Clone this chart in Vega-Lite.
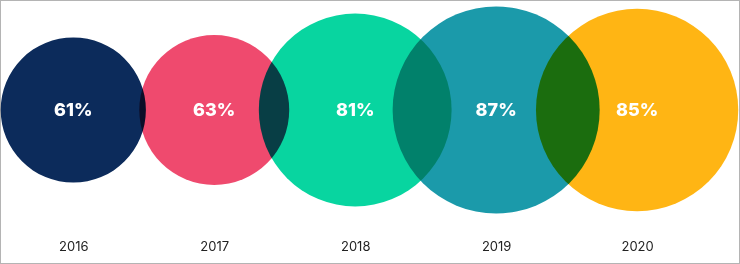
{
  "$schema": "https://vega.github.io/schema/vega-lite/v6.json",
  "width": 740,
  "height": 264,
  "padding": 0,
  "autosize": "none",
  "background": "white",
  "config": {"view": {"stroke": "#b4b4b4", "strokeWidth": 2}},
  "data": {"values": [
    {"year": 2016, "pct": 0.61},
    {"year": 2017, "pct": 0.63},
    {"year": 2018, "pct": 0.81},
    {"year": 2019, "pct": 0.87},
    {"year": 2020, "pct": 0.85}
  ]},
  "encoding": {
    "x": {"field": "year", "type": "quantitative",
      "scale": {"domain": [2015.48, 2020.73], "nice": false, "zero": false},
      "axis": {"orient": "bottom", "offset": -24, "values": [2016, 2017, 2018, 2019, 2020], "format": "d",
        "title": null, "domain": false, "ticks": false, "grid": false, "labelPadding": 0,
        "labelBaseline": "top", "labelFont": "Inter", "labelFontSize": 13, "labelColor": "#222222"}},
    "y": {"datum": 0, "type": "quantitative", "scale": {"domain": [-7, 5], "nice": false, "zero": false}, "axis": null}
  },
  "layer": [
    {
      "mark": {"type": "circle", "opacity": 1, "blend": "multiply"},
      "encoding": {
        "size": {"field": "pct", "type": "quantitative", "scale": {"type": "pow", "exponent": 2, "domain": [0, 1], "range": [0, 56644]}, "legend": null},
        "color": {"field": "year", "type": "nominal", "scale": {"domain": [2016, 2017, 2018, 2019, 2020], "range": ["#0c2b5b", "#ef4a6e", "#08d5a0", "#1b9aaa", "#ffb514"]}, "legend": null}
      }
    },
    {
      "mark": {"type": "text", "color": "white", "font": "Inter", "fontWeight": 800, "fontSize": 18, "baseline": "middle", "align": "center", "dy": 1},
      "encoding": {
        "text": {"field": "pct", "type": "quantitative", "format": ".0%"}
      }
    }
  ]
}
